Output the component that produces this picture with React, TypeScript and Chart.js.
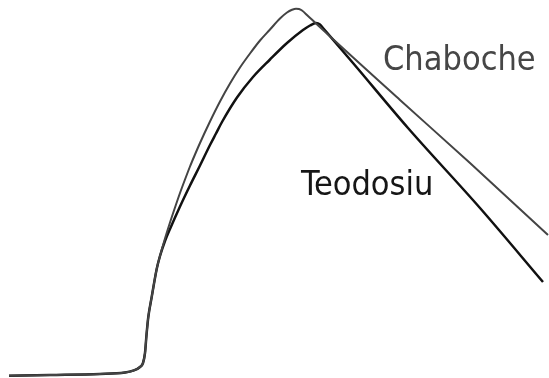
import React, { useEffect, useRef } from "react";
import { Chart, registerables } from "chart.js";

Chart.register(...registerables);

// Shared initial (elastic + knee) part, x = strain units, y = stress units
const sharedX = [9, 50, 100, 125, 133, 140, 143, 145, 146.5, 148.3, 151.7, 156.7, 160];
const sharedY = [2.3, 3, 4, 5.5, 7.3, 11, 15, 25, 43, 61, 81, 109, 122];

// Chaboche model (grey)
const chabocheX = [165, 170, 175, 180, 185, 190, 195, 200, 210, 220, 230, 240, 250, 260, 270, 280, 287, 292, 296, 299, 302, 308, 316, 400, 470, 548];
const chabocheY = [139.5, 155.5, 170.5, 185, 198.5, 211.5, 223.5, 235, 256.5, 276.5, 294.5, 310.5, 324.5, 337.5, 348.5, 359.5, 365.5, 368.2, 369.3, 369, 367.5, 362, 354.5, 278, 215, 143];

// Teodosiu model (black)
const teodosiuX = [165, 170, 180, 190, 200, 210, 216, 222, 237, 253, 270, 287, 303, 310, 316, 320, 323, 353, 408, 480, 543];
const teodosiuY = [137, 149, 171.5, 192.5, 212.5, 233, 244.5, 256, 280.5, 301, 318.5, 335, 348, 352.5, 355, 353.5, 350, 315, 250, 170, 96];

const labelNames = ["Chaboche", "Teodosiu"];

const toPoints = (xs: number[], ys: number[]) => xs.map((x, i) => ({ x, y: ys[i] }));

export default function App() {
  const ref = useRef<HTMLCanvasElement | null>(null);
  useEffect(() => {
    if (!ref.current) return;
    const chabochePts = [...toPoints(sharedX, sharedY), ...toPoints(chabocheX, chabocheY)];
    const teodosiuPts = [...toPoints(sharedX, sharedY), ...toPoints(teodosiuX, teodosiuY)];

    const labelPlugin = {
      id: "curveLabels",
      afterDatasetsDraw(chart: any) {
        const { ctx, scales } = chart;
        const items = [
          { text: labelNames[0], x: 383, y: 308, color: "#464646" },
          { text: labelNames[1], x: 301, y: 183, color: "#161616" },
        ];
        ctx.save();
        ctx.font = "34px 'DejaVu Sans Condensed', 'DejaVu Sans'";
        ctx.textBaseline = "alphabetic";
        ctx.textAlign = "left";
        for (const it of items) {
          ctx.fillStyle = it.color;
          ctx.fillText(it.text, scales.x.getPixelForValue(it.x), scales.y.getPixelForValue(it.y));
        }
        ctx.restore();
      },
    };

    const chart = new Chart(ref.current, {
      type: "scatter",
      data: {
        datasets: [
          {
            label: labelNames[0],
            data: chabochePts,
            showLine: true,
            borderColor: "#444444",
            borderWidth: 2,
            pointRadius: 0,
            cubicInterpolationMode: "monotone",
            clip: false,
          } as any,
          {
            label: labelNames[1],
            data: teodosiuPts,
            showLine: true,
            borderColor: "#111111",
            borderWidth: 2.5,
            pointRadius: 0,
            cubicInterpolationMode: "monotone",
            clip: false,
          } as any,
        ],
      },
      options: {
        responsive: false,
        maintainAspectRatio: false,
        animation: false,
        devicePixelRatio: 1,
        layout: { padding: 0 },
        plugins: { legend: { display: false }, tooltip: { enabled: false } },
        scales: {
          x: { type: "linear", min: 0, max: 549, display: false },
          y: { type: "linear", min: 0, max: 378, display: false },
        },
      },
      plugins: [labelPlugin],
    });
    return () => chart.destroy();
  }, []);

  return (
    <div style={{ position: "fixed", left: 0, top: 0, width: 549, height: 378, background: "#ffffff" }}>
      <canvas ref={ref} width={549} height={378} style={{ width: 549, height: 378, display: "block" }} />
    </div>
  );
}
